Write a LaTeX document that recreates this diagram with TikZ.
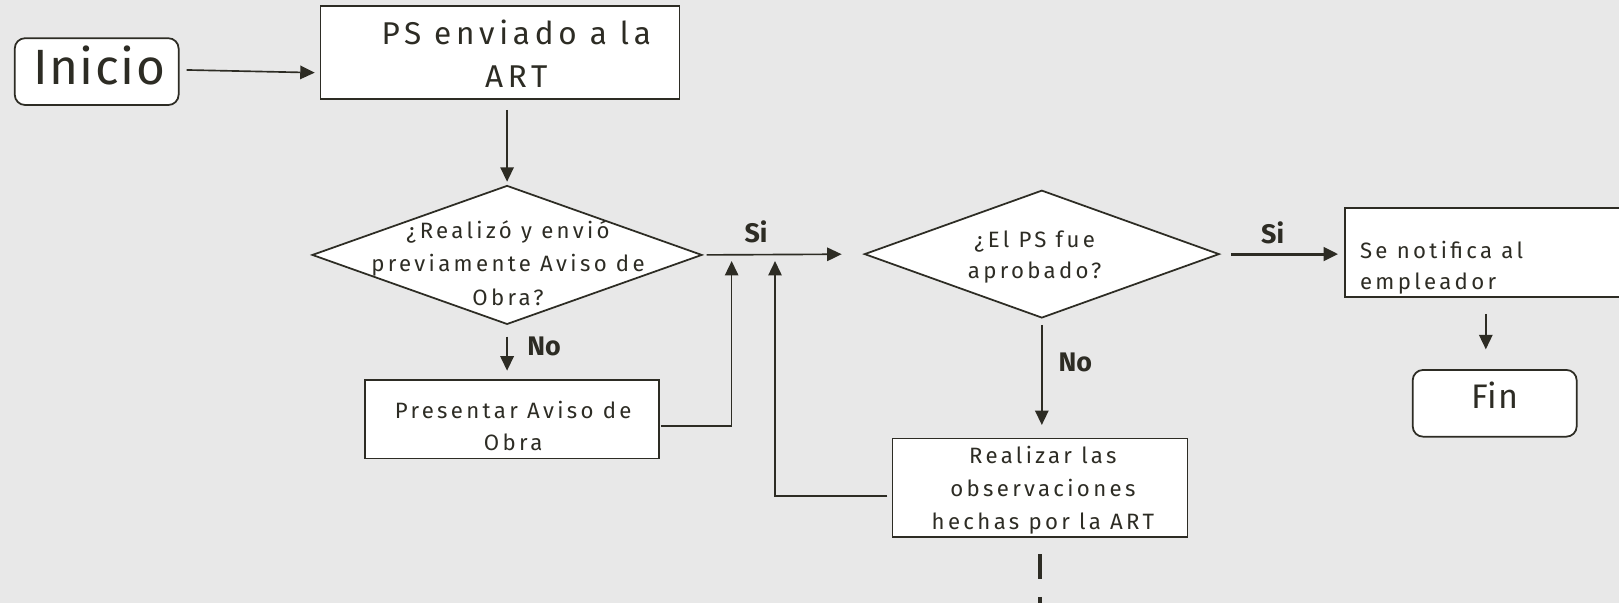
\documentclass[tikz,border=0pt]{standalone}
\usepackage{fontspec}
\setmainfont{Fira Sans}
\newfontfamily\bodyfont{Fira Sans}[LetterSpace=15]
\newfontfamily\bigfont{Fira Sans}[LetterSpace=3]
\usetikzlibrary{shapes.geometric,arrows.meta}
\definecolor{bgc}{HTML}{E8E8E8}
\definecolor{lc}{HTML}{2D2C24}
\begin{document}
\begin{tikzpicture}[x=1pt,y=-1pt,
  box/.style={draw=lc, fill=white, line width=1.7pt, rectangle, inner sep=0pt, outer sep=0pt},
  rbox/.style={box, rounded corners=10pt},
  dia/.style={draw=lc, fill=white, line width=1.7pt, diamond, inner sep=0pt, outer sep=0pt},
  txt/.style={text=lc, inner sep=0pt, align=center, font=\bodyfont\fontsize{21.5}{32}\selectfont},
  big/.style={text=lc, inner sep=0pt, align=center},
  lbl/.style={text=lc, inner sep=0pt, font=\bfseries\fontsize{26}{26}\selectfont},
  arr/.style={draw=lc, line width=1.6pt, -{Triangle[length=14pt,width=13pt]}},
  dashln/.style={draw=lc, line width=4pt, dash pattern=on 23.8pt off 17.2pt}
]
\useasboundingbox (0,0) rectangle (1568,584);
\fill[bgc] (0,0) rectangle (1568,584);
\clip (0,0) rectangle (1568,584);

% shapes
\node[rbox, minimum width=158.7pt, minimum height=64.7pt] (ini) at (93.65,69.35) {};
\node[box, minimum width=347.6pt, minimum height=89.8pt] (ps) at (484.2,50.7) {};
\node[dia, minimum width=377pt, minimum height=133.8pt] (d1) at (491.1,246.9) {};
\node[dia, minimum width=343pt, minimum height=123pt] (d2) at (1009,246.1) {};
\node[box, minimum width=337.5pt, minimum height=85.6pt] (nt) at (1471.25,244.5) {};
\node[rbox, minimum width=158.8pt, minimum height=64.6pt] (fin) at (1447.6,390.6) {};
\node[box, minimum width=285.3pt, minimum height=76pt] (pres) at (495.85,406) {};
\node[box, minimum width=285.7pt, minimum height=95.2pt] (real) at (1007.15,472.2) {};

% texts (anchor = baseline of the last line)
\node[big, anchor=base, font=\bigfont\fontsize{48}{48}\selectfont] (iniT) at (96,82.3) {Inicio};
\node[txt, anchor=base, font=\bodyfont\fontsize{30.5}{41.7}\selectfont] (psT) at (500,84.6) {PS enviado a la\\ART};
\node[txt, anchor=base] (d1T) at (492,295.4) {¿Realizó y envió\\previamente Aviso de\\Obra?};
\node[txt, anchor=base, font=\bodyfont\fontsize{21.5}{30}\selectfont] (d2T) at (1002,269.5) {¿El PS fue\\aprobado?};
\node[txt, anchor=base west, align=left, font=\bodyfont\fontsize{21.5}{29.7}\selectfont] (ntT) at (1317,279.9) {Se notifica al\\empleador};
\node[big, anchor=base, font=\bigfont\fontsize{33}{33}\selectfont] (finT) at (1447.6,395.4) {Fin};
\node[txt, anchor=base, font=\bodyfont\fontsize{21.5}{31.3}\selectfont] (presT) at (497,436.5) {Presentar Aviso de\\Obra};
\node[txt, anchor=base] (realT) at (1010,512.7) {Realizar las\\observaciones\\hechas por la ART};

% labels
\node[lbl, anchor=base] (si1) at (732.2,235) {Si};
\node[lbl, anchor=base] (si2) at (1232.6,235.6) {Si};
\node[lbl, anchor=base] (no1) at (527,343.9) {No};
\node[lbl, anchor=base] (no2) at (1041.4,359.9) {No};

% connectors
\draw[arr] ([xshift=7.7pt,yshift=1.6pt]ini.east) -- ([xshift=-5.6pt,yshift=-19.7pt]ps.west);
\draw[arr, shorten <=10.9pt, shorten >=4pt] (ps.south -| d1.north) -- (d1.north);
\draw[arr, shorten <=4.8pt, shorten >=22.4pt] (d1.east) -- (d2.west);
\draw[arr, line width=2.8pt, shorten <=11.5pt, shorten >=6.5pt] (d2.east) -- (d2.east -| nt.west);
\draw[arr, shorten <=12.2pt, shorten >=9pt] (d1.south) -- (d1.south |- pres.north);
\coordinate (j1) at (708.6,252.8);
\coordinate (j2) at (750.6,252.8);
\draw[arr] ([xshift=1.5pt,yshift=-6.6pt]pres.east) -| (j1);
\draw[arr] ([xshift=-4.8pt,yshift=-8.2pt]real.west) -| (j2);
\draw[arr, shorten <=7.1pt, shorten >=13pt] (d2.south) -- (d2.south |- real.north);
\coordinate (f3) at ([xshift=-8.6pt]fin.north);
\draw[arr, shorten <=16.7pt, shorten >=20pt] (f3 |- nt.south) -- (f3);
\draw[dashln] ([yshift=-17.2pt]real.south) -- ++(0,100);
\end{tikzpicture}
\end{document}
